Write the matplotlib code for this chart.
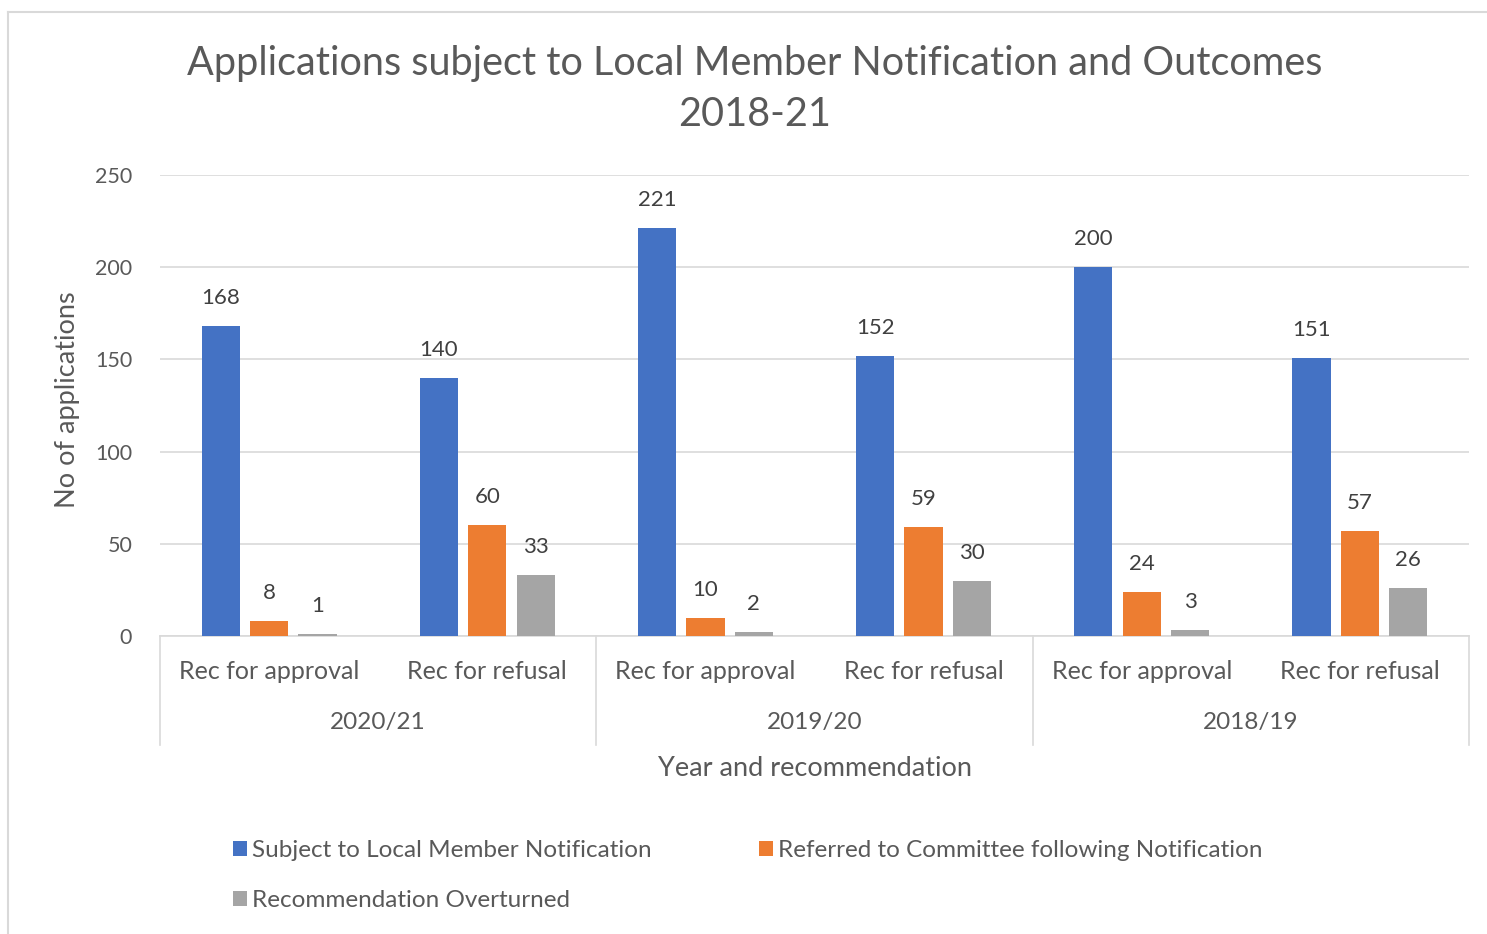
import numpy as np
import matplotlib.pyplot as plt
from matplotlib.lines import Line2D

plt.rcParams['font.family'] = ['Lato', 'DejaVu Sans']

# data
sub_labels = ['Rec for approval', 'Rec for refusal'] * 3
years = ['2020/21', '2019/20', '2018/19']
notified = [168, 140, 221, 152, 200, 151]
referred = [8, 60, 10, 59, 24, 57]
overturned = [1, 33, 2, 30, 3, 26]
series_names = ['Subject to Local Member Notification',
                'Referred to Committee following Notification',
                'Recommendation Overturned']
colors = ['#4472C4', '#ED7D31', '#A5A5A5']
text_col = '#595959'

fig = plt.figure(figsize=(14.87, 9.34), dpi=100)
ax = fig.add_axes([160/1487, 1-636/934, (1469-160)/1487, (636-175)/934])

# outer chart border (top and left visible)
fig.add_artist(Line2D([8/1487, 1], [1-12/934, 1-12/934], color='#D9D9D9', lw=1.5))
fig.add_artist(Line2D([8/1487, 8/1487], [0, 1-12/934], color='#D9D9D9', lw=1.5))

x = np.arange(len(notified))
w = 0.175
off = 0.222
bars = []
for i, vals in enumerate([notified, referred, overturned]):
    b = ax.bar(x + (i-1)*off, vals, w, color=colors[i], label=series_names[i], zorder=3)
    ax.bar_label(b, padding=13, fontsize=16, color='#404040')
    bars.append(b)

ax.set_ylim(0, 250)
ax.set_xlim(-0.5, 5.5)
ax.set_yticks(np.arange(0, 251, 50))
ax.yaxis.grid(True, color='#D9D9D9', lw=1.2, zorder=0)
ax.tick_params(axis='y', length=0, pad=20, labelsize=15.5, labelcolor=text_col)
ax.set_xticks(x)
ax.set_xticklabels(sub_labels)
ax.tick_params(axis='x', length=0, pad=17, labelsize=18, labelcolor=text_col)
for s in ['top', 'right', 'left']:
    ax.spines[s].set_visible(False)
ax.spines['bottom'].set_color('#D9D9D9')
ax.spines['bottom'].set_linewidth(1.2)

# multi level category axis
tr = ax.get_xaxis_transform()
for xs in [-0.5, 1.5, 3.5, 5.5]:
    ax.add_line(Line2D([xs, xs], [0, -(745-636)/461], transform=tr, color='#D9D9D9',
                       lw=1.2, clip_on=False))
for j, yr in enumerate(years):
    ax.text(2*j + 0.5, -(722-636)/461, yr, transform=tr, ha='center', va='center',
            fontsize=17.5, color=text_col)

ax.text(0.5, -(768-636)/461, 'Year and recommendation', transform=ax.transAxes,
        ha='center', va='center', fontsize=19.5, color=text_col)
fig.text(67/1487, 1-400/934, 'No of applications', rotation=90, ha='center', va='center',
         fontsize=19.5, color=text_col)

fig.text(755/1487, 1-89/934, 'Applications subject to Local Member Notification and Outcomes\n2018-21',
         ha='center', va='center', fontsize=28.5, color=text_col, linespacing=1.5)

handles = [bars[0], bars[2], bars[1]]
labels = [series_names[0], series_names[2], series_names[1]]
fig.legend(handles, labels, ncol=2, loc='upper left', bbox_to_anchor=(211/1487, 1-818/934),
           frameon=False, fontsize=17.5, handlelength=0.6, handleheight=0.6, handletextpad=0.2,
           columnspacing=4.4, labelspacing=1.2, labelcolor=text_col)

fig.savefig('out.png', dpi=100)
